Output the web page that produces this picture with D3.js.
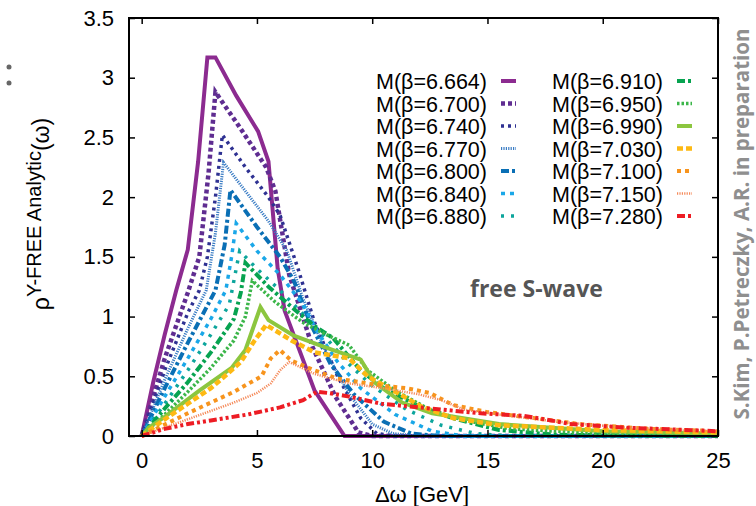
<!DOCTYPE html>
<html>
<head>
<meta charset="utf-8">
<script src="https://cdn.jsdelivr.net/npm/d3@7"></script>
<style>
  body { margin: 0; background: #fff; }
  svg { display: block; }
</style>
</head>
<body>
<div id="chart"></div>
<script>
// legend labels (beta values)
var betaLabels = ["6.664", "6.700", "6.740", "6.770", "6.800", "6.840", "6.880",
                  "6.910", "6.950", "6.990", "7.030", "7.100", "7.150", "7.280"];

// rho(omega), [omega, rho]
var s6664 = [[0,0],[0.5,0.45],[1,0.85],[1.5,1.22],[2,1.56],[2.45,2.3],[2.85,3.17],[3.2,3.17],[4.1,2.85],[5.05,2.55],[5.5,2.3],[5.9,1.4],[6.2,1.05],[7.5,0.38],[8.8,0],[25,0]];
var s6700 = [[0,0],[1,0.65],[2,1.2],[2.5,1.5],[2.9,2.2],[3.2,2.88],[4.2,2.6],[5.4,2.25],[5.8,2.05],[6.4,1.35],[7.4,0.75],[8.4,0.33],[9.4,0.03],[10,0],[25,0]];
var s6740 = [[0,0],[1,0.55],[2,1.03],[2.5,1.22],[2.85,1.5],[3.2,2.0],[3.5,2.52],[4.5,2.25],[5.5,2.0],[6,1.85],[6.8,1.39],[7.5,0.95],[8.5,0.5],[9.5,0.15],[10.2,0.02],[11,0],[25,0]];
var s6770 = [[0,0],[1,0.47],[2,0.9],[2.8,1.22],[3.2,1.7],[3.55,2.29],[4.5,2.05],[5.5,1.8],[6.3,1.55],[7,1.15],[8,0.7],[9,0.35],[10,0.1],[10.9,0.02],[12,0],[25,0]];
var s6800 = [[0,0],[1,0.4],[2,0.78],[3.2,1.22],[3.6,1.6],[3.85,2.06],[5,1.75],[6,1.5],[6.6,1.3],[7.3,0.95],[8.2,0.6],[9.2,0.35],[10.5,0.12],[11.7,0.02],[13,0],[25,0]];
var s6840 = [[0,0],[1,0.33],[2,0.65],[3,0.98],[3.65,1.22],[3.9,1.5],[4.1,1.78],[5,1.55],[6,1.35],[7,1.1],[7.6,0.88],[8.5,0.62],[9.5,0.4],[11,0.18],[12.6,0.04],[14,0],[25,0]];
var s6880 = [[0,0],[1,0.27],[2,0.55],[3,0.85],[3.8,1.1],[4.25,1.55],[5,1.4],[6,1.22],[7,1.02],[8,0.82],[9,0.6],[10,0.42],[11.5,0.22],[13,0.09],[14.5,0.02],[16,0],[25,0]];
var s6910 = [[0,0],[1,0.23],[2,0.45],[3,0.7],[4,0.98],[4.3,1.2],[4.5,1.45],[5.5,1.25],[6.5,1.08],[7.5,0.92],[8.3,0.82],[9.5,0.55],[10.5,0.4],[12,0.25],[13.5,0.15],[15.5,0.05],[18,0.01],[25,0]];
var s6950 = [[0,0],[1,0.18],[2,0.37],[3,0.57],[4,0.8],[4.5,1.0],[4.8,1.3],[5.8,1.12],[7,0.95],[8,0.85],[9,0.76],[9.8,0.55],[11,0.38],[12.5,0.22],[14,0.13],[16,0.06],[20,0.02],[25,0.01]];
var s6990 = [[0,0],[0.3,0.07],[1,0.16],[2.5,0.38],[3.9,0.57],[4.5,0.72],[5.15,1.08],[5.5,0.97],[6.6,0.84],[8,0.74],[9.5,0.64],[10.1,0.45],[11.3,0.28],[12.6,0.19],[15.5,0.1],[20,0.04],[25,0.02]];
var s7030 = [[0,0],[1,0.14],[2,0.27],[3,0.4],[3.6,0.5],[4.3,0.62],[4.9,0.8],[5.4,0.93],[6.5,0.8],[7.5,0.7],[9,0.65],[9.8,0.5],[11.1,0.36],[12.1,0.25],[13.5,0.15],[15.5,0.09],[20,0.05],[25,0.03]];
var s7100 = [[0,0],[2,0.19],[4,0.37],[5.2,0.5],[5.6,0.65],[6,0.72],[6.5,0.63],[7.5,0.55],[8.5,0.48],[9.5,0.45],[10.5,0.42],[11.5,0.4],[12.5,0.36],[13.5,0.26],[15,0.2],[17,0.15],[19,0.1],[22,0.06],[25,0.04]];
var s7150 = [[0,0],[2,0.14],[4,0.28],[5,0.36],[5.6,0.44],[6,0.55],[6.4,0.62],[7.5,0.52],[9,0.44],[10.5,0.4],[12,0.35],[13,0.3],[14,0.22],[15.5,0.18],[18,0.12],[21,0.07],[25,0.04]];
var s7280 = [[0,0],[1,0.06],[2,0.1],[3,0.13],[4.6,0.18],[6,0.24],[7,0.3],[7.6,0.37],[8.1,0.36],[9,0.33],[10.4,0.27],[12,0.24],[14.7,0.19],[16.5,0.17],[17.5,0.14],[18.6,0.1],[21,0.07],[25,0.04]];

var seriesData = [s6664, s6700, s6740, s6770, s6800, s6840, s6880,
                  s6910, s6950, s6990, s7030, s7100, s7150, s7280];

var xTicks = [0, 5, 10, 15, 20, 25];
var yTicks = [0, 0.5, 1, 1.5, 2, 2.5, 3, 3.5];

// line styles, same order as the labels
var colors = ["#8c2b90", "#5f2d91", "#2e3192", "#3a7cc4", "#0a6fb5", "#1aa7e8", "#0ca59c",
              "#07a350", "#3cb64a", "#8cc63f", "#fdb913", "#f7941d", "#f58a5a", "#ed1c24"];
var dashes = ["none", "4,3", "3,4", "1.2,1.2", "8,3,3,3", "4,5", "3,7",
              "8,3,3,3", "2.5,2", "none", "6,3", "4,4", "1.2,1.2", "8,3,3,3,3,3"];
var widths = [4, 4.5, 3.5, 3, 4, 3.5, 3.5, 4, 3.5, 4, 4.5, 4, 2.5, 4];

var svgWidth = 756;
var svgHeight = 506;
var font = "'Liberation Sans', Arial, Helvetica, sans-serif";

var svg = d3.select("#chart")
    .append("svg")
    .attr("width", svgWidth)
    .attr("height", svgHeight);

var x = d3.scaleLinear().domain([-0.55, 25]).range([129, 718]);
var y = d3.scaleLinear().domain([0, 3.5]).range([436, 18]);

// curves
var line = d3.line()
    .x(d => x(d[0]))
    .y(d => y(d[1]));

svg.append("g")
    .selectAll("path")
    .data(seriesData)
    .enter()
    .append("path")
    .attr("d", line)
    .attr("fill", "none")
    .attr("stroke", (d, i) => colors[i])
    .attr("stroke-width", (d, i) => widths[i])
    .attr("stroke-dasharray", (d, i) => dashes[i])
    .attr("stroke-linejoin", "miter");

// axes (ticks point inward, gnuplot style)
function styleAxis(g) {
    g.select(".domain").remove();
    g.selectAll(".tick line").attr("stroke", "#000").attr("stroke-width", 1.5);
    g.selectAll("text")
        .attr("font-family", font)
        .attr("font-size", 22)
        .attr("fill", "#000");
}

svg.append("g")
    .attr("transform", "translate(0,436)")
    .call(d3.axisBottom(x).tickValues(xTicks).tickSize(-6).tickPadding(16).tickFormat(d => d))
    .call(styleAxis);
svg.append("g")
    .attr("transform", "translate(0,18)")
    .call(d3.axisTop(x).tickValues(xTicks).tickSize(-6).tickFormat(""))
    .call(styleAxis);
svg.append("g")
    .attr("transform", "translate(129,0)")
    .call(d3.axisLeft(y).tickValues(yTicks).tickSize(-6).tickPadding(15).tickFormat(d => d))
    .call(styleAxis);
svg.append("g")
    .attr("transform", "translate(718,0)")
    .call(d3.axisRight(y).tickValues(yTicks).tickSize(-6).tickFormat(""))
    .call(styleAxis);

svg.append("rect")
    .attr("x", 129).attr("y", 18)
    .attr("width", 718 - 129).attr("height", 436 - 18)
    .attr("fill", "none")
    .attr("stroke", "#000")
    .attr("stroke-width", 2);

// axis titles
svg.append("text")
    .attr("x", 422).attr("y", 502)
    .attr("text-anchor", "middle")
    .attr("font-family", font)
    .attr("font-size", 22)
    .text("Δω [GeV]");

var yTitle = svg.append("text")
    .attr("transform", "translate(49,214) rotate(-90)")
    .attr("text-anchor", "middle")
    .attr("font-family", font)
    .attr("font-size", 23);
yTitle.append("tspan").text("ρ");
yTitle.append("tspan").attr("dy", -8).attr("font-size", 20).text("Y-FREE Analytic");
yTitle.append("tspan").attr("dy", 8).text("(ω)");

// legend
var legend = svg.append("g");
betaLabels.forEach(function(b, i) {
    var col = Math.floor(i / 7);
    var row = i % 7;
    var ty = 81 + row * 22.5;
    var tx = col === 0 ? 487 : 663;
    legend.append("text")
        .attr("x", tx).attr("y", ty + 8)
        .attr("text-anchor", "end")
        .attr("font-family", font)
        .attr("font-size", 21.5)
        .text("M(β=" + b + ")");
    legend.append("line")
        .attr("x1", tx + 14).attr("x2", tx + 29)
        .attr("y1", ty).attr("y2", ty)
        .attr("stroke", colors[i])
        .attr("stroke-width", widths[i])
        .attr("stroke-dasharray", dashes[i]);
});

// annotations
svg.append("text")
    .attr("x", 470).attr("y", 297)
    .attr("font-family", "'Open Sans', sans-serif")
    .attr("font-weight", "bold")
    .attr("font-size", 23)
    .attr("fill", "#555")
    .text("free S-wave");

svg.append("text")
    .attr("transform", "translate(749,224) rotate(-90)")
    .attr("text-anchor", "middle")
    .attr("font-family", "'Open Sans', sans-serif")
    .attr("font-weight", "bold")
    .attr("font-size", 20.5)
    .attr("fill", "#8f8f8f")
    .text("S.Kim, P.Petreczky, A.R. in preparation");

// cut-off colon at the left edge
svg.selectAll(".dot")
    .data([67, 83])
    .enter()
    .append("circle")
    .attr("cx", 9).attr("cy", d => d)
    .attr("r", 2.5)
    .attr("fill", "#666");
</script>
</body>
</html>
